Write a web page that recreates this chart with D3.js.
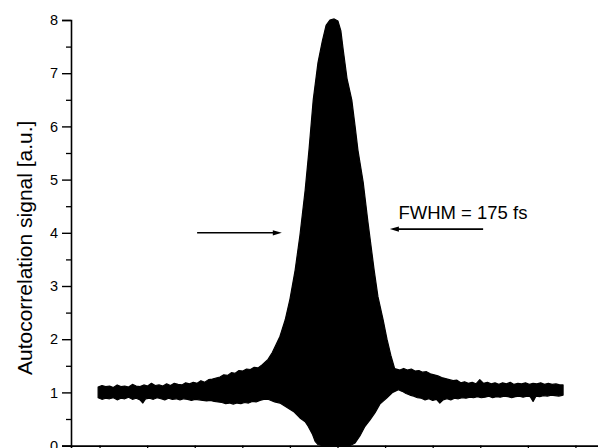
<!DOCTYPE html>
<html><head><meta charset="utf-8">
<script src="https://cdn.jsdelivr.net/npm/d3@7"></script>
<style>html,body{margin:0;padding:0;background:#fff;}svg{display:block;font-family:"Liberation Sans",Arial,sans-serif;}</style>
</head><body>
<script>
// Delay (fs) and upper / lower fringe envelope (a.u.)
const upperX = [-503,-495,-487,-479,-471,-463,-455,-447,-439,-431,-423,-415,-407,-399,-391,-383,-375,-367,-359,-351,-343,-335,-327,-319,-311,-303,-295,-287,-279,-271,-263,-255,-247,-239,-231,-223,-215,-207,-199,-191,-183,-175,-167,-158,
  -146,-137,-129,-121,-110,-100,-89,-79,-68,-60,-51,-41,-32,-24,-16,-7,1,7,12,20,30,37,43,54,64,77,85,96,104,112,120,
  131,139,147,155,163,171,179,187,195,203,211,219,227,235,243,251,259,267,275,283,291,299,307,315,323,331,339,347,355,363,371,379,387,395,403,411,419,427,435,443,451,459,467,474];
const upperY = [1.10,1.13,1.11,1.12,1.09,1.14,1.11,1.12,1.10,1.15,1.12,1.11,1.14,1.12,1.17,1.13,1.14,1.12,1.16,1.13,1.17,1.15,1.14,1.18,1.16,1.19,1.17,1.22,1.19,1.24,1.25,1.27,1.29,1.33,1.32,1.37,1.36,1.41,1.40,1.44,1.43,1.47,1.46,1.52,
  1.62,1.75,1.90,2.05,2.36,2.75,3.30,3.95,4.80,5.55,6.50,7.20,7.60,7.90,8.00,8.02,7.98,7.80,7.44,6.90,6.50,6.00,5.55,4.95,4.20,3.30,2.80,2.36,2.00,1.70,1.45,
  1.42,1.45,1.42,1.44,1.40,1.41,1.38,1.39,1.35,1.33,1.31,1.28,1.26,1.24,1.22,1.23,1.18,1.20,1.17,1.19,1.16,1.24,1.17,1.19,1.16,1.18,1.15,1.18,1.16,1.19,1.15,1.17,1.16,1.18,1.15,1.17,1.16,1.18,1.15,1.17,1.15,1.16,1.14,1.14];
const lowerX = [-503,-495,-487,-479,-471,-463,-455,-447,-439,-431,-423,-415,-409,-403,-395,-387,-379,-371,-363,-355,-347,-339,-331,-323,-315,-307,-299,-291,-283,-275,-267,-259,-251,-243,-235,-227,-219,-211,-203,-195,-187,-179,-171,-163,-155,
  -146,-132,-121,-91,-79,-68,-62,-53,-47,-41,-32,26,37,47,57,68,79,89,104,116,
  128,136,144,152,160,168,176,184,192,200,208,215,222,230,238,246,254,262,270,278,286,294,302,310,318,326,334,342,350,358,366,374,382,390,398,405,411,417,425,433,441,449,457,465,474];
const lowerY = [0.90,0.87,0.89,0.88,0.90,0.86,0.89,0.88,0.91,0.87,0.89,0.86,0.80,0.88,0.89,0.87,0.90,0.88,0.86,0.89,0.87,0.88,0.86,0.88,0.87,0.85,0.87,0.86,0.85,0.84,0.85,0.83,0.82,0.81,0.79,0.80,0.78,0.80,0.79,0.81,0.80,0.83,0.82,0.85,0.87,
  0.87,0.82,0.80,0.63,0.52,0.45,0.37,0.22,0.08,0.02,0.00,0.00,0.05,0.18,0.35,0.48,0.62,0.78,0.90,1.00,
  1.05,1.02,0.98,0.95,0.93,0.90,0.89,0.86,0.88,0.85,0.87,0.80,0.86,0.88,0.86,0.89,0.88,0.90,0.89,0.91,0.90,0.92,0.90,0.91,0.93,0.90,0.92,0.91,0.93,0.92,0.90,0.92,0.93,0.91,0.93,0.92,0.83,0.93,0.92,0.94,0.93,0.95,0.94,0.93,0.95];
const yTicks = [0,1,2,3,4,5,6,7,8];
const xTicks = [-500,-400,-300,-200,-100,0,100,200,300,400,500];
const yLabel = "Autocorrelation signal [a.u.]";
const fwhmText = "FWHM = 175 fs";
const leftArrow = {x1:-295, x2:-117, y:4.0};
const rightArrow = {x1:306, x2:110, y:4.07};
const labelPos = {x:128, y:4.26};

const W = 598, H = 448;
const svg = d3.select("body").append("svg").attr("width", W).attr("height", H);
const x = d3.scaleLinear().domain([-560, 560]).range([71, 604]);
const y = d3.scaleLinear().domain([0, 8]).range([445.6, 20]);

// signal band
const upper = upperX.map((d,i)=>[d, upperY[i]]);
const lower = lowerX.map((d,i)=>[d, lowerY[i]]);
const poly = upper.concat(lower.slice().reverse());
svg.append("path")
  .attr("d", d3.line().x(d=>x(d[0])).y(d=>y(d[1]))(poly) + "Z")
  .attr("fill", "#000").attr("stroke", "#000").attr("stroke-width", 1.2).attr("stroke-linejoin","round");

// Y axis
const yAxis = d3.axisLeft(y).tickValues(yTicks).tickSize(9).tickPadding(4).tickFormat(d3.format("d"));
const gy = svg.append("g").attr("transform", `translate(${x(-560)},0)`).call(yAxis);
gy.select(".domain").attr("stroke-width", 1.6);
gy.selectAll(".tick line").attr("stroke-width", 1.4);
gy.selectAll("text").attr("font-size", 14.5).attr("font-family", "Liberation Sans, Arial, sans-serif");
const yMinor = d3.axisLeft(y).tickValues(yTicks.slice(0,-1).map(d=>d+0.5)).tickSize(5).tickFormat("");
const gym = svg.append("g").attr("transform", `translate(${x(-560)},0)`).call(yMinor);
gym.select(".domain").remove();
gym.selectAll(".tick line").attr("stroke-width", 1.3);

// X axis
const xAxis = d3.axisBottom(x).tickValues(xTicks).tickSize(6).tickFormat("");
const gx = svg.append("g").attr("transform", `translate(0,${y(0)})`).call(xAxis);
gx.select(".domain").attr("stroke-width", 1.6);
gx.selectAll(".tick line").attr("stroke-width", 1.3);

// Y label
svg.append("text").attr("transform", `translate(32,${(y(0)+y(8))/2 + 15}) rotate(-90)`)
  .attr("text-anchor","middle").attr("font-size", 21).text(yLabel);

// Annotation arrows
function arrow(a){
  const x1 = x(a.x1), x2 = x(a.x2), yy = y(a.y);
  const dir = Math.sign(x2 - x1);
  svg.append("line").attr("x1", x1).attr("x2", x2 - dir*6).attr("y1", yy).attr("y2", yy)
    .attr("stroke", "#000").attr("stroke-width", 1.6);
  svg.append("path").attr("d", `M${x2},${yy} L${x2 - dir*9},${yy-2.6} L${x2 - dir*9},${yy+2.6} Z`).attr("fill", "#000");
}
arrow(leftArrow); arrow(rightArrow);
svg.append("text").attr("x", x(labelPos.x)).attr("y", y(labelPos.y)).attr("font-size", 18.5).text(fwhmText);
</script>
</body></html>
